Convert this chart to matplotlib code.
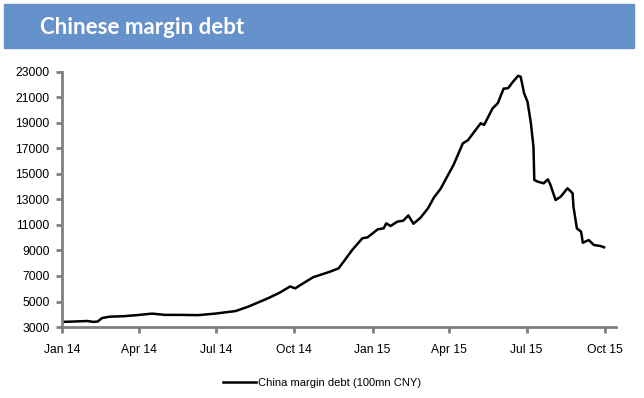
import matplotlib
matplotlib.use("Agg")
import matplotlib.pyplot as plt
from matplotlib.patches import Rectangle
import pandas as pd

# Chinese margin debt, 100mn CNY
dates = [
    "2014-01-01", "2014-01-15", "2014-01-31", "2014-02-07", "2014-02-12", "2014-02-17",
    "2014-02-26", "2014-03-15", "2014-03-28", "2014-04-17", "2014-05-02", "2014-05-20",
    "2014-06-10", "2014-06-30", "2014-07-24", "2014-08-08", "2014-08-31", "2014-09-14",
    "2014-09-26", "2014-10-02", "2014-10-12", "2014-10-23", "2014-11-12", "2014-11-22",
    "2014-11-28", "2014-12-08", "2014-12-20", "2014-12-26", "2015-01-07", "2015-01-14",
    "2015-01-17", "2015-01-22", "2015-01-30", "2015-02-06", "2015-02-12", "2015-02-18",
    "2015-02-26", "2015-03-07", "2015-03-14", "2015-03-22", "2015-03-28", "2015-04-06",
    "2015-04-17", "2015-04-23", "2015-05-08", "2015-05-12", "2015-05-22", "2015-05-28",
    "2015-06-04", "2015-06-09", "2015-06-15", "2015-06-21", "2015-06-24", "2015-06-28",
    "2015-07-02", "2015-07-06", "2015-07-09", "2015-07-10", "2015-07-14", "2015-07-21",
    "2015-07-26", "2015-07-29", "2015-08-04", "2015-08-10", "2015-08-18", "2015-08-24",
    "2015-08-25", "2015-08-29", "2015-09-03", "2015-09-05", "2015-09-12", "2015-09-18",
    "2015-09-26", "2015-09-30",
]
margin_debt = [
    3400, 3430, 3470, 3400, 3430, 3700,
    3810, 3850, 3920, 4050, 3950, 3950,
    3930, 4050, 4250, 4600, 5250, 5700,
    6180, 6030, 6450, 6900, 7340, 7600,
    8130, 9040, 9960, 10030, 10660, 10740,
    11130, 10920, 11260, 11340, 11750, 11100,
    11550, 12300, 13150, 13850, 14600, 15700,
    17400, 17650, 18980, 18850, 20150, 20540,
    21700, 21720, 22240, 22700, 22630, 21330,
    20670, 18980, 17150, 14530, 14400, 14270,
    14580, 14140, 12960, 13220, 13880, 13490,
    12440, 10740, 10470, 9610, 9820, 9430,
    9350, 9250,
]
tick_dates = ["2014-01-01", "2014-04-01", "2014-07-01", "2014-10-01",
              "2015-01-01", "2015-04-01", "2015-07-01", "2015-10-01"]
tick_labels = ["Jan 14", "Apr 14", "Jul 14", "Oct 14",
               "Jan 15", "Apr 15", "Jul 15", "Oct 15"]
y_ticks = list(range(3000, 23001, 2000))

title = "Chinese margin debt"
series_name = "China margin debt (100mn CNY)"

plt.rcParams['font.family'] = ['Liberation Sans', 'DejaVu Sans']

fig = plt.figure(figsize=(6.44, 3.98), dpi=100)

# blue title band
W, H = 644, 398
fig.patches.append(Rectangle((4 / W, 1 - 48 / H), 630 / W, 44 / H,
                             transform=fig.transFigure, color="#6692cc", zorder=0))
fig.text(40 / W, 1 - 27 / H, title, color="white", fontsize=16, fontweight="bold",
         family=["Lato", "DejaVu Sans"], va="center", ha="left")

ax = fig.add_axes([62 / W, 1 - 327 / H, (616 - 62) / W, (327 - 72) / H])
x = pd.to_datetime(dates)
ax.plot(x, margin_debt, color="black", lw=1.8, label=series_name)

ax.set_ylim(3000, 23000)
ax.set_yticks(y_ticks)
ax.set_xlim(pd.Timestamp("2014-01-01"), pd.Timestamp("2015-10-14"))
ax.set_xticks(pd.to_datetime(tick_dates))
ax.set_xticklabels(tick_labels)

for s in ["top", "right"]:
    ax.spines[s].set_visible(False)
for s in ["left", "bottom"]:
    ax.spines[s].set_color("#808080")
    ax.spines[s].set_linewidth(2)
ax.tick_params(axis="both", direction="out", length=4, width=2, color="#808080",
               labelsize=8.7, labelcolor="black")
ax.tick_params(axis="x", pad=8)
ax.tick_params(axis="y", pad=5)

fig.legend(loc="center", bbox_to_anchor=(322 / W, 1 - 383 / H), frameon=False,
           fontsize=8, handlelength=3, handletextpad=0.2)

fig.savefig("out.png", dpi=100)
